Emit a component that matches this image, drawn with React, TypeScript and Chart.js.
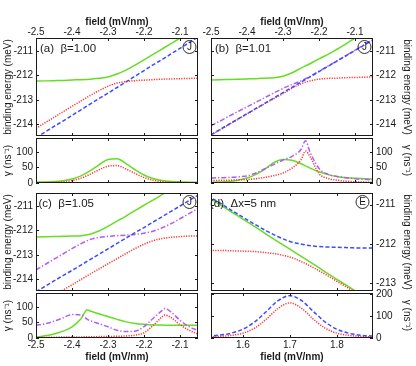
import React, { useEffect, useRef } from "react";
import { Chart, registerables } from "chart.js";

Chart.register(...registerables);

const FONT = '"Liberation Sans", Arial, sans-serif';
const INK = "#1a1a1a";
const GREEN = "#66dd22";
const RED = "#ff3333";
const BLUE = "#3a4cff";
const PURPLE = "#b05cf5";
const M = 44;
const TICK_SIZE = 10;
const TITLE_SIZE = 10;

// ---------- tick labels ----------
const fieldTicks = [-2.5, -2.4, -2.3, -2.2, -2.1];
const fieldTicksD = [1.6, 1.7, 1.8];
const energyTicks = [-214, -213, -212, -211];
const energyTicksD = [-213, -212, -211];
const gammaTicks = [0, 50, 100];
const gammaTicksD = [0, 100, 200];

// ---------- field grids ----------
const xField = [-2.5, -2.475, -2.45, -2.425, -2.4, -2.375, -2.35, -2.325, -2.3, -2.275, -2.25, -2.225, -2.2, -2.175, -2.15, -2.125, -2.1, -2.075, -2.05];
const xFieldB = [-2.5, -2.475, -2.45, -2.425, -2.4, -2.375, -2.35, -2.325, -2.3, -2.275, -2.25, -2.2375, -2.225, -2.2, -2.175, -2.15, -2.125, -2.1, -2.075, -2.05];
const xFieldC = [-2.5, -2.475, -2.45, -2.425, -2.4, -2.375, -2.3575, -2.35, -2.325, -2.3, -2.275, -2.25, -2.225, -2.2, -2.175, -2.15, -2.1425, -2.125, -2.1, -2.075, -2.05];
const xFieldD = [1.525, 1.55, 1.575, 1.6, 1.625, 1.65, 1.675, 1.7, 1.725, 1.75, 1.775, 1.8, 1.825, 1.85, 1.875, 1.9];

// ---------- (a) beta = 1.00 ----------
const energyGreenA = [-212.23, -212.22, -212.21, -212.2, -212.18, -212.17, -212.15, -212.11, -212.06, -211.94, -211.78, -211.58, -211.36, -211.14, -210.92, -210.7, -210.47, -210.25, -210.02];
const energyRedA = [-214.16, -213.93, -213.71, -213.48, -213.26, -213.04, -212.82, -212.62, -212.44, -212.31, -212.25, -212.21, -212.19, -212.17, -212.15, -212.14, -212.13, -212.12, -212.11];
const energyBlueA = [-214.54, -214.31, -214.08, -213.86, -213.63, -213.4, -213.17, -212.94, -212.72, -212.49, -212.26, -212.03, -211.8, -211.57, -211.35, -211.12, -210.89, -210.66, -210.43];
const gammaGreenA = [2.6, 3.4, 4.7, 7.4, 12.8, 23, 38.9, 58.6, 76, 78, 62.4, 42.7, 25.7, 14.4, 8.2, 5.1, 3.6, 2.8, 2.2];
const gammaRedA = [1, 1.3, 2, 3.7, 7.7, 15.6, 27.9, 42.5, 54, 56, 45.3, 30.8, 17.7, 9, 4.3, 2.2, 1.4, 1, 0.8];
const gammaBlueA = [0, 0, 0, 0, 0, 0, 0, 0, 0, 0, 0, 0, 0, 0, 0, 0, 0, 0, 0];

// ---------- (b) beta = 1.01 ----------
const energyGreenB = [-212.18, -212.17, -212.16, -212.15, -212.14, -212.13, -212.11, -212.09, -212.03, -211.89, -211.7, -211.52, -211.32, -211.14, -210.93, -210.71, -210.47, -210.25, -210.03];
const energyPurpleB = [-214.05, -213.86, -213.66, -213.47, -213.28, -213.09, -212.9, -212.71, -212.53, -212.37, -212.22, -212.04, -211.83, -211.615, -211.4, -211.185, -210.97, -210.755, -210.54];
const energyBlueB = [-214.42, -214.205, -213.99, -213.775, -213.56, -213.345, -213.13, -212.915, -212.7, -212.485, -212.27, -212.055, -211.84, -211.625, -211.41, -211.195, -210.98, -210.765, -210.55];
const energyRedB = [-214.44, -214.22, -214.0, -213.79, -213.57, -213.36, -213.15, -212.94, -212.74, -212.52, -212.34, -212.22, -212.15, -212.12, -212.11, -212.09, -212.08, -212.07, -212.05];
const gammaGreenB = [2, 3, 5, 9, 16, 28, 45, 66, 76, 73, 62, 55, 48, 36, 27, 21, 17, 15, 14, 13];
const gammaPurpleB = [16, 17, 18, 20, 23, 32, 46, 60, 74, 86, 108, 136, 100, 47, 28, 21, 17, 14, 12, 10];
const gammaRedB = [8, 8.5, 9, 10, 11, 14, 18, 24, 32, 48, 75, 103, 85, 30, 15, 9, 6, 4, 3, 2];

// ---------- (c) beta = 1.05 ----------
const energyGreenC = [-212.27, -212.26, -212.25, -212.24, -212.23, -212.21, -212.15, -212.02, -211.83, -211.62, -211.41, -211.19, -210.97, -210.76, -210.54, -210.32, -210.1, -209.89, -209.67];
const energyPurpleC = [-213.61, -213.39, -213.17, -212.96, -212.74, -212.54, -212.37, -212.28, -212.24, -212.21, -212.19, -212.16, -212.11, -212.03, -211.89, -211.72, -211.52, -211.31, -211.1];
const energyRedC = [-215.08, -214.87, -214.65, -214.43, -214.22, -214.0, -213.78, -213.57, -213.36, -213.15, -212.94, -212.74, -212.56, -212.42, -212.33, -212.28, -212.25, -212.23, -212.22];
const energyBlueC = [-214.5, -214.28, -214.06, -213.84, -213.63, -213.41, -213.19, -212.97, -212.75, -212.53, -212.31, -212.09, -211.88, -211.66, -211.44, -211.22, -211.0, -210.78, -210.56];
const gammaGreenC = [3, 7, 13, 22, 36, 62, 91, 87, 78, 69, 60, 52, 47, 44, 42, 41.5, 41.3, 41, 41, 41, 41];
const gammaPurpleC = [41, 46, 54, 65, 76, 74, 60, 56, 46, 36, 25, 21, 22, 37, 63, 88, 95, 84, 57, 37, 24];
const gammaRedC = [2, 2, 2.5, 3, 3, 3.5, 4, 4, 4.5, 5, 5.5, 6.5, 9, 17, 40, 68, 74, 66, 43, 25, 13];

// ---------- (d) dx = 5 nm ----------
const energyGreenD = [-210.8, -210.99, -211.18, -211.37, -211.56, -211.76, -211.95, -212.14, -212.33, -212.52, -212.72, -212.91, -213.1, -213.29, -213.48, -213.68];
const energyBlueD = [-210.77, -210.95, -211.14, -211.32, -211.5, -211.67, -211.82, -211.94, -212.01, -212.06, -212.08, -212.09, -212.1, -212.11, -212.11, -212.11];
const energyRedD = [-212.17, -212.17, -212.18, -212.19, -212.2, -212.23, -212.27, -212.34, -212.46, -212.61, -212.78, -212.96, -213.14, -213.33, -213.51, -213.7];
const gammaBlueD = [9, 13, 22, 40, 73, 121, 170, 193, 170, 121, 73, 40, 22, 13, 9, 7];
const gammaRedD = [5, 7.5, 12, 22, 45, 86, 135, 160, 135, 86, 45, 22, 12, 7.5, 5, 4];
const gammaGreenD = [0, 0, 0, 0, 0, 0, 0, 0, 0, 0, 0, 0, 0, 0, 0, 0];

type Series = { data: number[]; color: string; dash: number[]; width?: number };
type Spec = {
  key: string;
  left: number; top: number; width: number; height: number;
  xs: number[]; xMin: number; xMax: number; xTicks: number[];
  xLabels: "top" | "bottom" | "none";
  yMin: number; yMax: number; yTicks: number[];
  yPos: "left" | "right"; yTitle: string;
  series: Series[];
  label?: { text: string; dx: number };
  badge?: { letter: string; dx: number };
};

const DOT = [1.2, 1.3];
const DASH = [4, 2.2];
const DASHDOT = [5, 2, 1.3, 2];

const solid = (data: number[], color: string): Series => ({ data, color, dash: [] });
const styled = (data: number[], color: string, dash: number[]): Series => ({ data, color, dash });

const COL1 = 36, COL2 = 211, W = 162;
const ROW1T = 38, ROW1B = 138, ROW2T = 193, ROW2B = 293, HT = 98, HB = 45;
const FIELD_TITLE = "field (mV/nm)";

const specs: Spec[] = [
  {
    key: "aTop", left: COL1, top: ROW1T, width: W, height: HT,
    xs: xField, xMin: -2.5, xMax: -2.05, xTicks: fieldTicks, xLabels: "top",
    yMin: -214.47, yMax: -210.47, yTicks: energyTicks, yPos: "left", yTitle: "binding energy (meV)",
    series: [styled(energyRedA, RED, DOT), styled(energyBlueA, BLUE, DASH), solid(energyGreenA, GREEN)],
    label: { text: "(a)  β=1.00", dx: 4 }, badge: { letter: "J", dx: 8.5 },
  },
  {
    key: "aBot", left: COL1, top: ROW1B, width: W, height: HB,
    xs: xField, xMin: -2.5, xMax: -2.05, xTicks: fieldTicks, xLabels: "none",
    yMin: 0, yMax: 145, yTicks: gammaTicks, yPos: "left", yTitle: "γ (ns⁻¹)",
    series: [styled(gammaBlueA, BLUE, DASH), styled(gammaRedA, RED, DOT), solid(gammaGreenA, GREEN)],
  },
  {
    key: "bTop", left: COL2, top: ROW1T, width: W, height: HT,
    xs: xField, xMin: -2.5, xMax: -2.05, xTicks: fieldTicks, xLabels: "top",
    yMin: -214.47, yMax: -210.47, yTicks: energyTicks, yPos: "right", yTitle: "binding energy (meV)",
    series: [styled(energyBlueB, BLUE, DASH), styled(energyRedB, RED, DOT), styled(energyPurpleB, PURPLE, DASHDOT), solid(energyGreenB, GREEN)],
    label: { text: "(b)  β=1.01", dx: 4 }, badge: { letter: "J", dx: 8.5 },
  },
  {
    key: "bBot", left: COL2, top: ROW1B, width: W, height: HB,
    xs: xFieldB, xMin: -2.5, xMax: -2.05, xTicks: fieldTicks, xLabels: "none",
    yMin: 0, yMax: 145, yTicks: gammaTicks, yPos: "right", yTitle: "γ (ns⁻¹)",
    series: [styled(gammaRedB, RED, DOT), styled(gammaPurpleB, PURPLE, DASHDOT), solid(gammaGreenB, GREEN)],
  },
  {
    key: "cTop", left: COL1, top: ROW2T, width: W, height: HT,
    xs: xField, xMin: -2.5, xMax: -2.05, xTicks: fieldTicks, xLabels: "none",
    yMin: -214.47, yMax: -210.47, yTicks: energyTicks, yPos: "left", yTitle: "binding energy (meV)",
    series: [styled(energyBlueC, BLUE, DASH), styled(energyRedC, RED, DOT), styled(energyPurpleC, PURPLE, DASHDOT), solid(energyGreenC, GREEN)],
    label: { text: "(c)  β=1.05", dx: 2.5 }, badge: { letter: "J", dx: 8.5 },
  },
  {
    key: "cBot", left: COL1, top: ROW2B, width: W, height: HB,
    xs: xFieldC, xMin: -2.5, xMax: -2.05, xTicks: fieldTicks, xLabels: "bottom",
    yMin: 0, yMax: 145, yTicks: gammaTicks, yPos: "left", yTitle: "γ (ns⁻¹)",
    series: [styled(gammaRedC, RED, DOT), styled(gammaPurpleC, PURPLE, DASHDOT), solid(gammaGreenC, GREEN)],
  },
  {
    key: "dTop", left: COL2, top: ROW2T, width: W, height: HT,
    xs: xFieldD, xMin: 1.532, xMax: 1.877, xTicks: fieldTicksD, xLabels: "none",
    yMin: -213.21, yMax: -210.7, yTicks: energyTicksD, yPos: "right", yTitle: "binding energy (meV)",
    series: [styled(energyBlueD, BLUE, DASH), styled(energyRedD, RED, DOT), solid(energyGreenD, GREEN)],
    label: { text: "(d)  Δx=5 nm", dx: -1 }, badge: { letter: "E", dx: 10.5 },
  },
  {
    key: "dBot", left: COL2, top: ROW2B, width: W, height: HB,
    xs: xFieldD, xMin: 1.532, xMax: 1.877, xTicks: fieldTicksD, xLabels: "bottom",
    yMin: 0, yMax: 205, yTicks: gammaTicksD, yPos: "right", yTitle: "γ (ns⁻¹)",
    series: [styled(gammaBlueD, BLUE, DASH), styled(gammaRedD, RED, DOT), solid(gammaGreenD, GREEN)],
  },
];

function framePlugin(s: Spec) {
  return {
    id: "frame_" + s.key,
    afterDraw(chart: any) {
      const { ctx, chartArea: a } = chart;
      const xs = chart.scales.x;
      const ys = chart.scales.y;
      ctx.save();
      ctx.strokeStyle = INK;
      ctx.lineWidth = 1;
      ctx.beginPath();
      const TL = 3;
      s.xTicks.forEach((v) => {
        const p = Math.round(xs.getPixelForValue(v)) + 0.5;
        ctx.moveTo(p, a.top); ctx.lineTo(p, a.top + TL);
        ctx.moveTo(p, a.bottom); ctx.lineTo(p, a.bottom - TL);
      });
      s.yTicks.forEach((v) => {
        const p = Math.round(ys.getPixelForValue(v)) + 0.5;
        ctx.moveTo(a.left, p); ctx.lineTo(a.left + TL, p);
        ctx.moveTo(a.right, p); ctx.lineTo(a.right - TL, p);
      });
      ctx.stroke();
      ctx.strokeRect(a.left + 0.5, a.top + 0.5, a.right - a.left - 1, a.bottom - a.top - 1);

      // top field axis: tick labels and title placed from the x scale
      if (s.xLabels === "top") {
        ctx.fillStyle = INK;
        ctx.textAlign = "center";
        ctx.textBaseline = "middle";
        ctx.font = `${TICK_SIZE}px ${FONT}`;
        s.xTicks.forEach((v) => {
          ctx.fillText(String(v), xs.getPixelForValue(v), a.top - 5.5);
        });
        ctx.font = `bold ${TITLE_SIZE}px ${FONT}`;
        ctx.fillText(FIELD_TITLE, (a.left + a.right) / 2, a.top - 15.5);
      }
      if (s.label) {
        ctx.fillStyle = INK;
        ctx.font = `11.5px ${FONT}`;
        ctx.textAlign = "left";
        ctx.textBaseline = "alphabetic";
        ctx.fillText(s.label.text, a.left + s.label.dx, a.top + 14);
      }
      if (s.badge) {
        const cx = a.right - s.badge.dx;
        const cy = a.top + 9;
        ctx.beginPath();
        ctx.lineWidth = 0.9;
        ctx.arc(cx, cy, 6.5, 0, Math.PI * 2);
        ctx.stroke();
        ctx.fillStyle = INK;
        ctx.font = `10px ${FONT}`;
        ctx.textAlign = "center";
        ctx.textBaseline = "middle";
        ctx.fillText(s.badge.letter, cx, cy + 0.5);
      }
      ctx.restore();
    },
  };
}

function buildConfig(s: Spec): any {
  const xSize = s.xLabels === "bottom" ? 25 : 0;
  const ySize = s.yPos === "left" ? 33.5 : 40;
  const padding = {
    left: s.yPos === "left" ? M - ySize : M,
    right: s.yPos === "right" ? M - ySize : M,
    top: M,
    bottom: M - xSize,
  };
  const tickFont = { family: FONT, size: TICK_SIZE, lineHeight: 1.0 };
  const fmt = (v: number) => String(v);
  return {
    type: "line",
    data: {
      datasets: s.series.map((ser) => ({
        data: s.xs.map((x, i) => ({ x, y: ser.data[i] })),
        borderColor: ser.color,
        borderDash: ser.dash,
        borderWidth: ser.width ?? 1.5,
        borderCapStyle: "butt",
        pointRadius: 0,
        fill: false,
        cubicInterpolationMode: "monotone",
        clip: 0,
      })),
    },
    options: {
      animation: false,
      responsive: false,
      events: [],
      layout: { padding },
      plugins: { legend: { display: false }, tooltip: { enabled: false } },
      scales: {
        x: {
          type: "linear",
          position: "bottom",
          min: s.xMin,
          max: s.xMax,
          afterBuildTicks: (sc: any) => { sc.ticks = s.xTicks.map((v) => ({ value: v })); },
          afterFit: (sc: any) => { sc.height = xSize; },
          grid: { display: false, drawTicks: false },
          border: { display: false },
          ticks: {
            display: s.xLabels === "bottom",
            font: tickFont,
            color: INK,
            padding: 2,
            autoSkip: false,
            maxRotation: 0,
            callback: fmt,
          },
          title: {
            display: s.xLabels === "bottom",
            text: FIELD_TITLE,
            font: { family: FONT, size: TITLE_SIZE, weight: "bold", lineHeight: 1.2 },
            color: INK,
            padding: 0,
          },
        },
        y: {
          type: "linear",
          position: s.yPos,
          min: s.yMin,
          max: s.yMax,
          afterBuildTicks: (sc: any) => { sc.ticks = s.yTicks.map((v) => ({ value: v })); },
          afterFit: (sc: any) => { sc.width = ySize; },
          grid: { display: false, drawTicks: false },
          border: { display: false },
          ticks: {
            font: tickFont,
            color: INK,
            padding: 3,
            autoSkip: false,
            callback: fmt,
          },
          title: {
            display: true,
            text: s.yTitle,
            font: { family: FONT, size: TITLE_SIZE, lineHeight: 1.2 },
            color: INK,
            padding: 0,
          },
        },
      },
    },
    plugins: [framePlugin(s)],
  };
}

function Panel({ spec }: { spec: Spec }) {
  const ref = useRef<HTMLCanvasElement>(null);
  useEffect(() => {
    const c = ref.current;
    if (!c) return;
    const chart = new Chart(c, buildConfig(spec));
    return () => chart.destroy();
  }, [spec]);
  const w = spec.width + 2 * M;
  const h = spec.height + 2 * M;
  return (
    <canvas
      ref={ref}
      width={w}
      height={h}
      style={{ position: "absolute", left: spec.left - M, top: spec.top - M, width: w, height: h }}
    />
  );
}

export default function App() {
  return (
    <div style={{ position: "absolute", left: 0, top: 0, width: 416, height: 366, overflow: "hidden", background: "#fff" }}>
      {specs.map((s) => (
        <Panel key={s.key} spec={s} />
      ))}
    </div>
  );
}
